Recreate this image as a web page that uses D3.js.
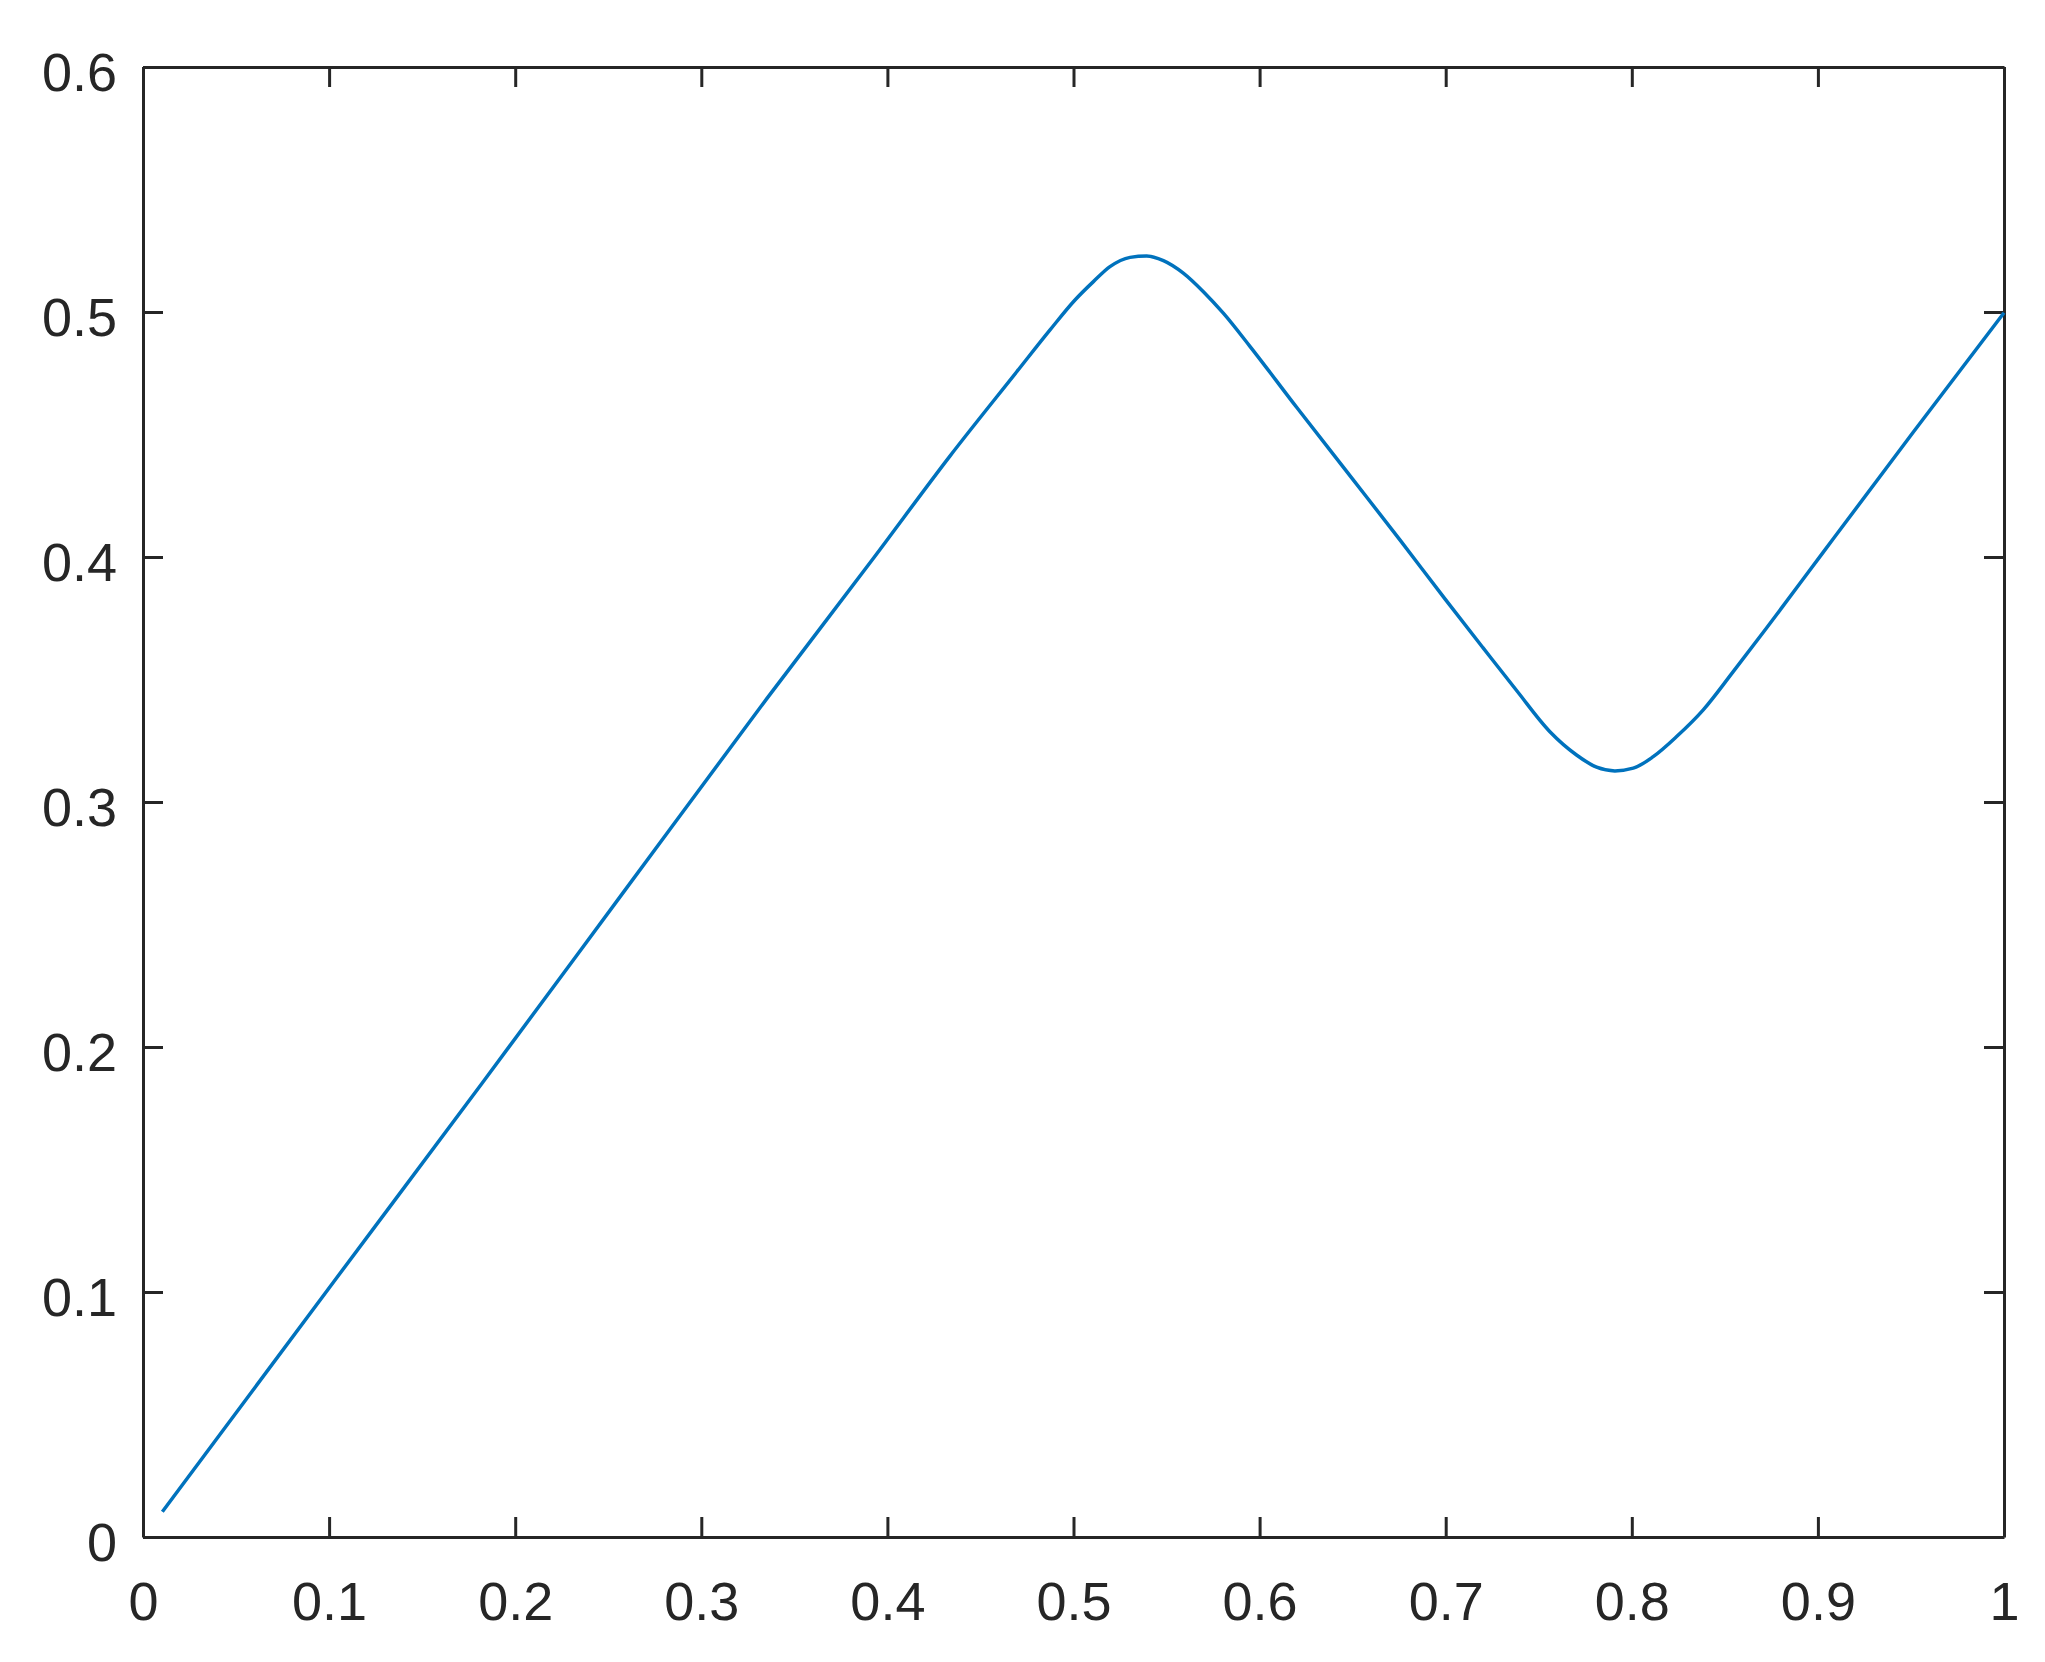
<!DOCTYPE html>
<html>
<head>
<meta charset="utf-8">
<script src="https://cdn.jsdelivr.net/npm/d3@7"></script>
<style>
  body { margin: 0; background: #fff; }
  svg { display: block; }
  .tick text { font-family: "Liberation Sans", Helvetica, Arial, sans-serif; }
</style>
</head>
<body>
<div id="wrapper"></div>
<script>
// values
const xValues = [0.0104, 0.1032, 0.1820, 0.2580, 0.3350, 0.3930, 0.4336, 0.4695,
                 0.4874, 0.5008, 0.5107, 0.5196, 0.5304, 0.5393, 0.5483, 0.5590, 0.5698, 0.5805,
                 0.5948, 0.6200, 0.6500, 0.6755, 0.6996, 0.7200, 0.7381, 0.7560, 0.7703, 0.7811,
                 0.7909, 0.8008, 0.8115, 0.8241, 0.8384, 0.8545, 0.8724, 0.9029, 0.9513,
                 1.0000]
const yValues = [0.0103, 0.1049, 0.1850, 0.2630, 0.3420, 0.4000, 0.4412, 0.4756,
                 0.4927, 0.5049, 0.5124, 0.5185, 0.5223, 0.5229, 0.5210, 0.5159, 0.5083, 0.4995,
                 0.4860, 0.4610, 0.4318, 0.4069, 0.3829, 0.3630, 0.3455, 0.3287, 0.3192, 0.3142,
                 0.3127, 0.3138, 0.3185, 0.3267, 0.3376, 0.3532, 0.3710, 0.4020, 0.4510,
                 0.4997]

const xTicks = [0, 0.1, 0.2, 0.3, 0.4, 0.5, 0.6, 0.7, 0.8, 0.9, 1]
const xTickLabels = ["0", "0.1", "0.2", "0.3", "0.4", "0.5", "0.6", "0.7", "0.8", "0.9", "1"]
const yTicks = [0, 0.1, 0.2, 0.3, 0.4, 0.5, 0.6]
const yTickLabels = ["0", "0.1", "0.2", "0.3", "0.4", "0.5", "0.6"]

const dimensions = {
    width: 2045,
    height: 1662,
    margin: { top: 67, right: 41, bottom: 125, left: 143 }
}
dimensions.boundedWidth = dimensions.width - dimensions.margin.left - dimensions.margin.right
dimensions.boundedHeight = dimensions.height - dimensions.margin.top - dimensions.margin.bottom

const axisColor = "#262626"
const lineColor = "#0072BD"

const wrapper = d3.select("#wrapper")
    .append("svg")
    .attr("width", dimensions.width)
    .attr("height", dimensions.height)

wrapper.append("rect")
    .attr("width", dimensions.width)
    .attr("height", dimensions.height)
    .attr("fill", "#fff")

const bounds = wrapper.append("g")
    .attr("transform", `translate(${dimensions.margin.left}, ${dimensions.margin.top})`)

const xScale = d3.scaleLinear()
    .domain([0, 1])
    .range([0, dimensions.boundedWidth])

const yScale = d3.scaleLinear()
    .domain([0, 0.6])
    .range([dimensions.boundedHeight, 0])

const points = xValues.map((x, i) => ({ x: x, y: yValues[i] }))

// axes: labelled bottom/left, tick-only top/right (box)
const xAxis = d3.axisBottom(xScale)
    .tickValues(xTicks)
    .tickFormat((d, i) => xTickLabels[i])
    .tickSizeInner(-20)
    .tickSizeOuter(0)
    .tickPadding(45)

const yAxis = d3.axisLeft(yScale)
    .tickValues(yTicks)
    .tickFormat((d, i) => yTickLabels[i])
    .tickSizeInner(-20)
    .tickSizeOuter(0)
    .tickPadding(26)

const xAxisTop = d3.axisTop(xScale)
    .tickValues(xTicks)
    .tickFormat("")
    .tickSizeInner(-20)
    .tickSizeOuter(0)

const yAxisRight = d3.axisRight(yScale)
    .tickValues(yTicks)
    .tickFormat("")
    .tickSizeInner(-20)
    .tickSizeOuter(0)

bounds.append("g")
    .attr("class", "x-axis")
    .attr("transform", `translate(0, ${dimensions.boundedHeight})`)
    .call(xAxis)

const yAxisEl = bounds.append("g")
    .attr("class", "y-axis")
    .call(yAxis)

bounds.append("g")
    .attr("class", "x-axis-top")
    .call(xAxisTop)

bounds.append("g")
    .attr("class", "y-axis-right")
    .attr("transform", `translate(${dimensions.boundedWidth}, 0)`)
    .call(yAxisRight)

bounds.selectAll(".domain, .tick line")
    .attr("stroke", axisColor)
    .attr("stroke-width", 3)

bounds.selectAll(".tick text")
    .attr("fill", axisColor)
    .style("font-size", "54px")

yAxisEl.selectAll(".tick text").attr("dy", "0.44em")

// the curve
const lineGenerator = d3.line()
    .x(d => xScale(d.x))
    .y(d => yScale(d.y))
    .curve(d3.curveMonotoneX)

bounds.append("path")
    .datum(points)
    .attr("d", lineGenerator)
    .attr("fill", "none")
    .attr("stroke", lineColor)
    .attr("stroke-width", 3.5)
    .attr("stroke-linejoin", "round")
</script>
</body>
</html>
